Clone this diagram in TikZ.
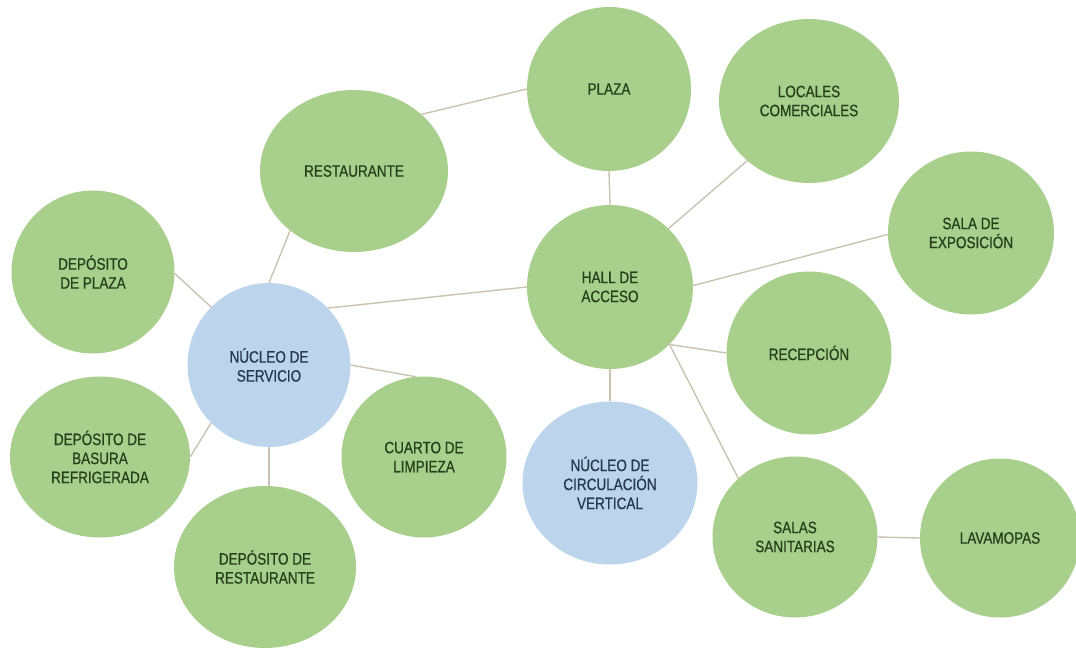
\documentclass[tikz,border=0pt]{standalone}
\usepackage{fontspec}
\setmainfont{Liberation Sans}[FakeStretch=0.82,FakeBold=0.6]
\usetikzlibrary{shapes.geometric}
\definecolor{gfill}{HTML}{A8CF8C}
\definecolor{bfill}{HTML}{BCD5EC}
\definecolor{gtext}{HTML}{25401A}
\definecolor{btext}{HTML}{26394E}
\definecolor{link}{HTML}{C9C3B0}
\tikzset{
  bub/.style={ellipse, fill=gfill, draw=none, inner sep=0pt, align=center,
    text=gtext, font=\fontsize{16.5}{19}\selectfont},
  bluebub/.style={bub, fill=bfill, text=btext},
  lnk/.style={draw=link, line width=1.4pt},
}
\begin{document}
\begin{tikzpicture}[x=1pt,y=-1pt]
\useasboundingbox (0,0) rectangle (1076,650);
% nodes
\node[bub, minimum width=164pt, minimum height=164pt] (plaza) at (609,89) {PLAZA};
\node[bub, minimum width=180pt, minimum height=164pt] (loc) at (809,101) {LOCALES\\COMERCIALES};
\node[bub, minimum width=188pt, minimum height=162pt] (rest) at (354,171) {RESTAURANTE};
\node[bub, minimum width=166pt, minimum height=163pt] (sala) at (971,233) {SALA DE\\EXPOSICIÓN};
\node[bub, minimum width=166pt, minimum height=164pt] (hall) at (610,287) {HALL DE\\ACCESO};
\node[bub, minimum width=163pt, minimum height=163pt] (dpl) at (93,272) {DEPÓSITO\\DE PLAZA};
\node[bluebub, minimum width=163pt, minimum height=164pt] (nserv) at (269,365) {NÚCLEO DE\\SERVICIO};
\node[bub, minimum width=165pt, minimum height=163pt] (recep) at (809,353) {RECEPCIÓN};
\node[bub, minimum width=165pt, minimum height=161pt] (cuarto) at (424,457) {CUARTO DE\\LIMPIEZA};
\node[bluebub, minimum width=175pt, minimum height=163pt] (circv) at (610,483) {NÚCLEO DE\\CIRCULACIÓN\\VERTICAL};
\node[bub, minimum width=180pt, minimum height=161pt] (bas) at (100,457) {DEPÓSITO DE\\BASURA\\REFRIGERADA};
\node[bub, minimum width=182pt, minimum height=162pt] (dres) at (265,567) {DEPÓSITO DE\\RESTAURANTE};
\node[bub, minimum width=165pt, minimum height=161pt] (salas) at (795,537) {SALAS\\SANITARIAS};
\node[bub, minimum width=160pt, minimum height=159pt] (lava) at (1000,538) {LAVAMOPAS};
% connectors
\draw[lnk] (rest.40) -- (plaza.180);
\draw[lnk] (plaza.south) -- (hall.north);
\draw[lnk] (hall.45) -- (loc.224);
\draw[lnk] (hall.1) -- (sala.181);
\draw[lnk] (hall.-44) -- (recep.180);
\draw[lnk] (hall.-44) -- (salas.134);
\draw[lnk] (hall.south) -- (circv.north);
\draw[lnk] (nserv.44) -- (hall.180);
\draw[lnk] (nserv.0) -- (cuarto.96);
\draw[lnk] (nserv.90) -- (rest.223);
\draw[lnk] (nserv.135) -- (dpl.-1);
\draw[lnk] (nserv.225) -- (bas.0);
\draw[lnk] (nserv.south) -- (nserv.south |- dres.north);
\draw[lnk] (salas.0) -- (lava.180);
\end{tikzpicture}
\end{document}
